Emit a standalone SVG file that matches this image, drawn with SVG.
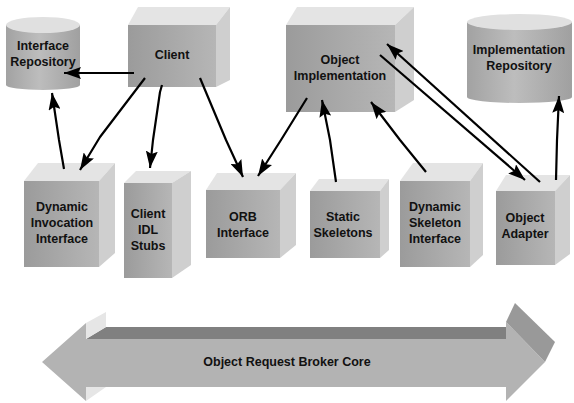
<svg xmlns="http://www.w3.org/2000/svg" width="574" height="403" viewBox="0 0 574 403">
  <defs>
    <linearGradient id="front" x1="0" y1="0" x2="1" y2="0">
      <stop offset="0" stop-color="#9b9b9b"/>
      <stop offset="1" stop-color="#b6b6b6"/>
    </linearGradient>
    <linearGradient id="drum" x1="0" y1="0" x2="1" y2="0">
      <stop offset="0" stop-color="#a2a2a2"/>
      <stop offset="0.45" stop-color="#bdbdbd"/>
      <stop offset="1" stop-color="#a0a0a0"/>
    </linearGradient>
    <marker id="ah" viewBox="0 0 17 12" refX="17" refY="6" markerWidth="17" markerHeight="12" markerUnits="userSpaceOnUse" orient="auto">
      <path d="M0,0 L17,6 L0,12 L3,6 Z" fill="#000"/>
    </marker>
  </defs>
  <style>
    .front { fill: url(#front); }
    .top { fill: #e4e4e4; }
    .side { fill: #cfcfcf; }
    .drum { fill: url(#drum); }
    .lid { fill: #e0e0e0; }
    .lbl { font-family: "Liberation Sans", Arial, sans-serif; font-weight: bold; font-size: 12.5px; fill: #111; text-anchor: middle; }
    .wire { fill: none; stroke: #000; stroke-width: 2.2; stroke-linejoin: round; marker-end: url(#ah); }
  </style>

  <rect width="574" height="403" fill="#fff"/>

  <!-- ORB core double arrow -->
  <g id="orb-core">
    <path d="M42,362 L86,323 L86,339 L506,339 L506,322 L545,362 L506,401 L506,387 L86,387 L86,401 Z" fill="#b3b3b3"/>
    <path d="M106,327 L506,327 L506,339 L86,339 Z" fill="#808080"/>
    <path d="M86,323 L106,312 L106,327 L86,339 Z" fill="#e6e6e6"/>
    <path d="M86,387 L106,387 L86,401 Z" fill="#e6e6e6"/>
    <path d="M506,322 L515,303 L555,342 L545,362 Z" fill="#999"/>
    <text class="lbl" x="287" y="366">Object Request Broker Core</text>
  </g>

  <!-- repositories -->
  <g id="interface-repository">
    <path class="drum" d="M6,25 L6,85 A37,5 0 0 0 80,85 L80,25 Z"/>
    <ellipse class="lid" cx="43" cy="25" rx="37" ry="8"/>
    <text class="lbl" x="43" y="50">Interface</text>
    <text class="lbl" x="43" y="66">Repository</text>
  </g>
  <g id="implementation-repository">
    <path class="drum" d="M467,22 L467,97 A52.5,6 0 0 0 572,97 L572,22 Z"/>
    <ellipse class="lid" cx="519.5" cy="22" rx="52.5" ry="8"/>
    <text class="lbl" x="519" y="54">Implementation</text>
    <text class="lbl" x="519" y="70">Repository</text>
  </g>

  <!-- boxes -->
  <g id="client">
    <path class="top" d="M128,25 L138,7 L230,7 L216,25 Z"/>
    <path class="side" d="M216,25 L230,7 L230,80 L216,87 Z"/>
    <rect class="front" x="128" y="25" width="88" height="62"/>
    <text class="lbl" x="172" y="59">Client</text>
  </g>
  <g id="object-implementation">
    <path class="top" d="M286,25 L297,7 L414,7 L395,25 Z"/>
    <path class="side" d="M395,25 L414,7 L414,100 L395,112 Z"/>
    <rect class="front" x="286" y="25" width="109" height="87"/>
    <text class="lbl" x="340" y="64">Object</text>
    <text class="lbl" x="340" y="80">Implementation</text>
  </g>
  <g id="dynamic-invocation-interface">
    <path class="top" d="M24,181 L38,163 L115,163 L99,181 Z"/>
    <path class="side" d="M99,181 L115,163 L115,253 L99,267 Z"/>
    <rect class="front" x="24" y="181" width="75" height="86"/>
    <text class="lbl" x="62" y="211">Dynamic</text>
    <text class="lbl" x="62" y="227">Invocation</text>
    <text class="lbl" x="62" y="243">Interface</text>
  </g>
  <g id="client-idl-stubs">
    <path class="top" d="M124,183 L136,171 L191,171 L172,183 Z"/>
    <path class="side" d="M172,183 L191,171 L191,265 L172,278 Z"/>
    <rect class="front" x="124" y="183" width="48" height="95"/>
    <text class="lbl" x="148" y="218">Client</text>
    <text class="lbl" x="148" y="234">IDL</text>
    <text class="lbl" x="148" y="250">Stubs</text>
  </g>
  <g id="orb-interface">
    <path class="top" d="M206,190 L217,173 L296,173 L280,190 Z"/>
    <path class="side" d="M280,190 L296,173 L296,245 L280,258 Z"/>
    <rect class="front" x="206" y="190" width="74" height="68"/>
    <text class="lbl" x="243" y="221">ORB</text>
    <text class="lbl" x="243" y="237">Interface</text>
  </g>
  <g id="static-skeletons">
    <path class="top" d="M310,191 L319,179 L389,179 L380,191 Z"/>
    <path class="side" d="M380,191 L389,179 L389,250 L380,258 Z"/>
    <rect class="front" x="310" y="191" width="70" height="67"/>
    <text class="lbl" x="343" y="221">Static</text>
    <text class="lbl" x="343" y="237">Skeletons</text>
  </g>
  <g id="dynamic-skeleton-interface">
    <path class="top" d="M400,181 L413,163 L483,163 L470,181 Z"/>
    <path class="side" d="M470,181 L483,163 L483,255 L470,267 Z"/>
    <rect class="front" x="400" y="181" width="70" height="86"/>
    <text class="lbl" x="435" y="211">Dynamic</text>
    <text class="lbl" x="435" y="227">Skeleton</text>
    <text class="lbl" x="435" y="243">Interface</text>
  </g>
  <g id="object-adapter">
    <path class="top" d="M496,191 L506,175 L570,175 L555,191 Z"/>
    <path class="side" d="M555,191 L570,175 L570,254 L555,265 Z"/>
    <rect class="front" x="496" y="191" width="59" height="74"/>
    <text class="lbl" x="525" y="222">Object</text>
    <text class="lbl" x="525" y="238">Adapter</text>
  </g>

  <!-- connectors -->
  <g id="connectors">
    <path class="wire" d="M134,73 L64,73"/>
    <path class="wire" d="M64,169 L59,140 L52,93"/>
    <path class="wire" d="M145,78 L100,137 L80,170"/>
    <path class="wire" d="M162,85 L160,92 L153,140 L150,168"/>
    <path class="wire" d="M200,78 L226,140 L243,177"/>
    <path class="wire" d="M307,98 L281,140 L258,176"/>
    <path class="wire" d="M336,182 L330,140 L322,100"/>
    <path class="wire" d="M426,172 L400,140 L371,102"/>
    <path class="wire" d="M380,55 L525,180"/>
    <path class="wire" d="M540,182 L387,44"/>
    <path class="wire" d="M556,180 L557,140 L559,96"/>
  </g>
</svg>
